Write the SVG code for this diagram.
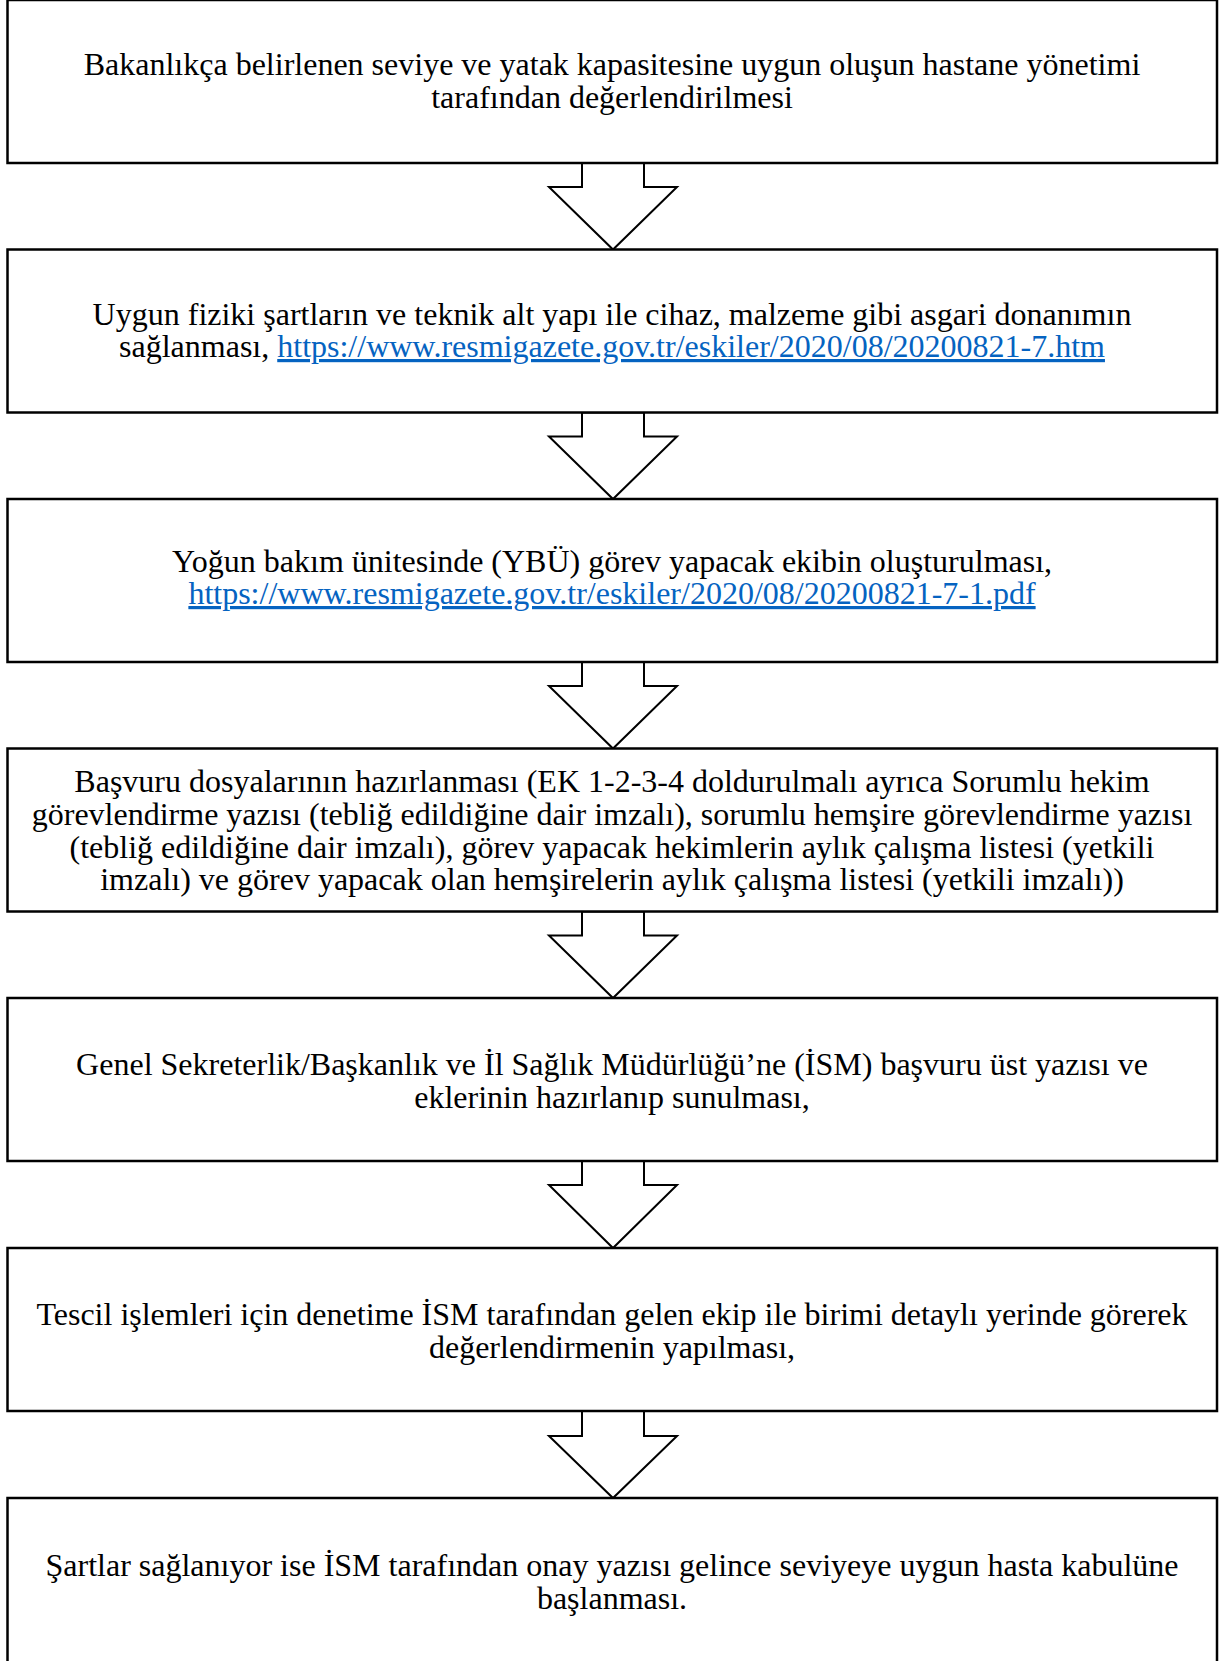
<svg xmlns="http://www.w3.org/2000/svg" width="1226" height="1661" viewBox="0 0 1226 1661">
<style>
.box{fill:#fff;stroke:#000;stroke-width:2.5}
.arr{fill:#fff;stroke:#000;stroke-width:2;stroke-linejoin:miter}
.t{font-family:"Liberation Serif","Times New Roman",serif;font-size:32px;fill:#000;text-anchor:middle}
.lnk{fill:#0563C1;text-decoration:underline}
</style>
<rect width="1226" height="1661" fill="#fff"/>
<g id="connectors">
<polygon class="arr" points="582,163 644,163 644,187 677,187 613,249.5 549,187 582,187"/>
<polygon class="arr" points="582,412.5 644,412.5 644,436.5 677,436.5 613,499 549,436.5 582,436.5"/>
<polygon class="arr" points="582,662 644,662 644,686 677,686 613,748.5 549,686 582,686"/>
<polygon class="arr" points="582,911.5 644,911.5 644,935.5 677,935.5 613,998 549,935.5 582,935.5"/>
<polygon class="arr" points="582,1161 644,1161 644,1185 677,1185 613,1248 549,1185 582,1185"/>
<polygon class="arr" points="582,1411 644,1411 644,1436 677,1436 613,1498 549,1436 582,1436"/>
</g>
<g id="node1">
<rect class="box" x="7.5" y="0" width="1209.5" height="163"/>
<text class="t" x="612" y="74.5">Bakanlıkça belirlenen seviye ve yatak kapasitesine uygun oluşun hastane yönetimi</text>
<text class="t" x="612" y="107.5">tarafından değerlendirilmesi</text>
</g>
<g id="node2">
<rect class="box" x="7.5" y="249.5" width="1209.5" height="163"/>
<text class="t" x="612" y="324.5">Uygun fiziki şartların ve teknik alt yapı ile cihaz, malzeme gibi asgari donanımın</text>
<text class="t" x="612" y="357">sağlanması, <tspan class="lnk">https://www.resmigazete.gov.tr/eskiler/2020/08/20200821-7.htm</tspan></text>
</g>
<g id="node3">
<rect class="box" x="7.5" y="499" width="1209.5" height="163"/>
<text class="t" x="612" y="571.5">Yoğun bakım ünitesinde (YBÜ) görev yapacak ekibin oluşturulması,</text>
<text class="t" x="612" y="604"><tspan class="lnk">https://www.resmigazete.gov.tr/eskiler/2020/08/20200821-7-1.pdf</tspan></text>
</g>
<g id="node4">
<rect class="box" x="7.5" y="748.5" width="1209.5" height="163"/>
<text class="t" x="612" y="791.5">Başvuru dosyalarının hazırlanması (EK 1-2-3-4 doldurulmalı ayrıca Sorumlu hekim</text>
<text class="t" x="612" y="824.5">görevlendirme yazısı (tebliğ edildiğine dair imzalı), sorumlu hemşire görevlendirme yazısı</text>
<text class="t" x="612" y="857.5">(tebliğ edildiğine dair imzalı), görev yapacak hekimlerin aylık çalışma listesi (yetkili</text>
<text class="t" x="612" y="889.5">imzalı) ve görev yapacak olan hemşirelerin aylık çalışma listesi (yetkili imzalı))</text>
</g>
<g id="node5">
<rect class="box" x="7.5" y="998" width="1209.5" height="163"/>
<text class="t" x="612" y="1074.5">Genel Sekreterlik/Başkanlık ve İl Sağlık Müdürlüğü’ne (İSM) başvuru üst yazısı ve</text>
<text class="t" x="612" y="1107.5">eklerinin hazırlanıp sunulması,</text>
</g>
<g id="node6">
<rect class="box" x="7.5" y="1248" width="1209.5" height="163"/>
<text class="t" x="612" y="1324.5">Tescil işlemleri için denetime İSM tarafından gelen ekip ile birimi detaylı yerinde görerek</text>
<text class="t" x="612" y="1357.5">değerlendirmenin yapılması,</text>
</g>
<g id="node7">
<rect class="box" x="7.5" y="1498" width="1209.5" height="175"/>
<text class="t" x="612" y="1575.5">Şartlar sağlanıyor ise İSM tarafından onay yazısı gelince seviyeye uygun hasta kabulüne</text>
<text class="t" x="612" y="1608.5">başlanması.</text>
</g>
</svg>
